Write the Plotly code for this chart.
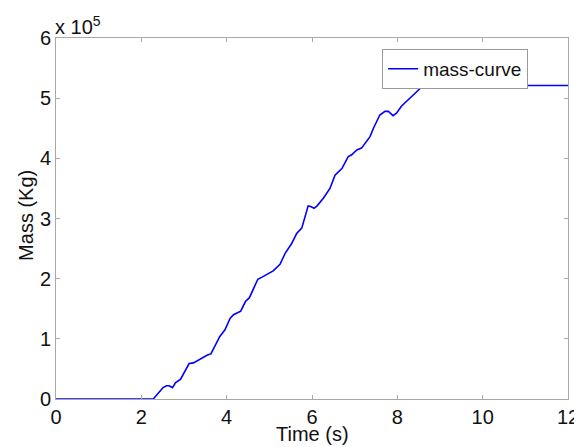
import plotly.graph_objects as go

# Time (s)
time_s = [0, 1.73, 1.78, 1.95, 2.0, 2.28, 2.51, 2.59, 2.65, 2.73, 2.80, 2.92, 3.12, 3.22,
          3.55, 3.63, 3.84, 3.96, 4.08, 4.16, 4.33, 4.44, 4.53, 4.73, 4.84, 5.0, 5.09,
          5.25, 5.37, 5.52, 5.64, 5.76, 5.84, 5.91, 5.97, 6.05, 6.12, 6.27, 6.42, 6.54,
          6.70, 6.85, 6.93, 7.05, 7.16, 7.30, 7.36, 7.44, 7.59, 7.71, 7.79, 7.90, 7.98,
          8.10, 8.30, 8.45, 8.61, 12]
# Mass in units of 1e5 Kg
mass_e5 = [0, 0, 0.01, 0.01, 0, 0, 0.19, 0.22, 0.22, 0.19, 0.27, 0.33, 0.59, 0.60,
           0.73, 0.75, 1.04, 1.15, 1.34, 1.40, 1.46, 1.62, 1.68, 1.99, 2.03, 2.10, 2.13,
           2.24, 2.42, 2.58, 2.75, 2.84, 3.04, 3.21, 3.20, 3.17, 3.21, 3.34, 3.50, 3.72,
           3.83, 4.03, 4.06, 4.14, 4.17, 4.30, 4.36, 4.50, 4.72, 4.78, 4.78, 4.71, 4.75,
           4.87, 5.01, 5.11, 5.21, 5.21]

series_name = "mass-curve"
x_title = "Time (s)"
y_title = "Mass (Kg)"
FONT = "Liberation Sans, Arial, sans-serif"
AXIS_COL = "#a8a8a8"
TXT = "#111"

fig = go.Figure()
fig.add_trace(go.Scatter(x=time_s, y=mass_e5, mode="lines", name=series_name,
                         line=dict(color="#0000ff", width=1.6)))

axis_common = dict(showline=True, linecolor=AXIS_COL, linewidth=1, mirror="ticks",
                   ticks="inside", ticklen=4, tickcolor=AXIS_COL, showgrid=False,
                   zeroline=False, automargin=False,
                   tickfont=dict(size=20, color=TXT, family=FONT))

fig.update_xaxes(range=[0, 12], dtick=2, tick0=0, **axis_common)
fig.update_yaxes(range=[0, 6], dtick=1, tick0=0, **axis_common)

fig.add_annotation(text=x_title, xref="paper", yref="paper", x=0.5, y=-0.1316,
                   xanchor="center", yanchor="bottom", showarrow=False,
                   font=dict(size=20, color=TXT, family=FONT))
fig.add_annotation(text=y_title, xref="paper", yref="paper", x=-0.0586, y=0.51,
                   xanchor="center", yanchor="middle", textangle=-90, showarrow=False,
                   font=dict(size=20, color=TXT, family=FONT))
fig.add_annotation(text="x 10<sup>5</sup>", xref="paper", yref="paper", x=0, y=1,
                   xanchor="left", yanchor="bottom", showarrow=False, xshift=-3, yshift=-2,
                   font=dict(size=20, color=TXT, family=FONT))

# page body has an 8px default margin, so the figure is drawn 8px smaller
fig.update_layout(
    width=574, height=439,
    margin=dict(l=48, r=14, t=30, b=48),
    paper_bgcolor="white", plot_bgcolor="white",
    font=dict(family=FONT, color=TXT),
    showlegend=True,
    legend=dict(x=0.637, y=0.97, xanchor="left", yanchor="top",
                bordercolor="#9a9a9a", borderwidth=1, bgcolor="white",
                font=dict(size=19, color=TXT, family=FONT),
                itemwidth=30, tracegroupgap=0),
)

fig.write_html("out.html")
